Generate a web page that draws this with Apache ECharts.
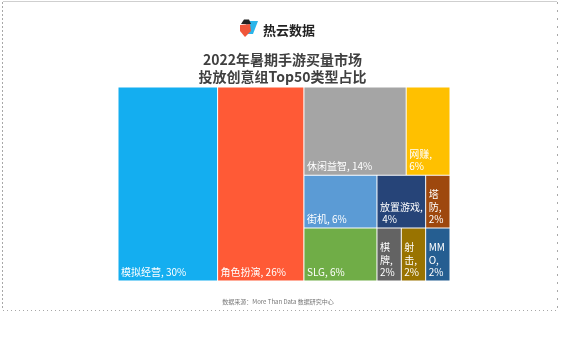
<!DOCTYPE html>
<html>
<head>
<meta charset="utf-8">
<script src="https://cdn.jsdelivr.net/npm/echarts@6/dist/echarts.min.js"></script>
<style>
  html, body { margin: 0; padding: 0; background: #fff; }
  #chart { width: 565px; height: 347px; }
</style>
</head>
<body>
<div id="chart"></div>
<script>
// Genres and their share (%) among the Top50 creative groups
const categories = ['模拟经营', '角色扮演', '休闲益智', '网赚', '街机', '放置游戏', '塔防', 'SLG', '棋牌', '射击', 'MMO'];
const shares = [30, 26, 14, 6, 6, 4, 2, 6, 2, 2, 2];
const palette = ['#14AEF0', '#FF5A36', '#A5A5A5', '#FFC000', '#5B9BD5', '#264478', '#9E480E', '#70AD47', '#636363', '#997300', '#255E91'];
// How genres (by index) are grouped into blocks of the treemap
const blocks = [0, [1, [[2, 3], [[4, 7], [[5, 6], [[8, 9], 10]]]]]];
const titleLines = ['2022年暑期手游买量市场', '投放创意组Top50类型占比'];
const brand = '热云数据';
const sourceNote = '数据来源：More Than Data 数据研究中心';

function toNode(b) {
  if (typeof b === 'number') {
    return {
      name: categories[b],
      value: shares[b],
      itemStyle: { color: palette[b], borderWidth: 0.5, borderColor: '#fff' }
    };
  }
  return { name: '', children: b.map(toNode), itemStyle: { borderWidth: 0, gapWidth: 0 } };
}
const treeData = blocks.map(toNode);

const chart = echarts.init(document.getElementById('chart'), null, { renderer: 'canvas' });
const cjk = 'Noto Sans CJK SC';

chart.setOption({
  animation: false,
  title: {
    text: titleLines.join('\n'),
    left: 'center',
    top: 46,
    textStyle: { fontSize: 14, fontWeight: 'bold', color: '#404040', lineHeight: 17, fontFamily: cjk }
  },
  series: [{
    type: 'treemap',
    left: 118, top: 87, width: 332, height: 194,
    squareRatio: 1.14,
    sort: false,
    roam: false,
    nodeClick: false,
    breadcrumb: { show: false },
    itemStyle: { borderWidth: 0, gapWidth: 0, borderColor: '#fff' },
    upperLabel: { show: false },
    label: {
      show: true,
      position: 'insideBottomLeft',
      distance: 0,
      formatter: '{b}, {c}%',
      color: '#fff',
      fontSize: 10,
      lineHeight: 12.5,
      padding: [2, 2, 2, 2.5],
      overflow: 'break',
      fontFamily: cjk
    },
    emphasis: { disabled: true },
    data: treeData
  }],
  graphic: [
    // frame
    { type: 'line', shape: { x1: 3, y1: 1.5, x2: 557, y2: 1.5 }, style: { stroke: '#CFCFCF', lineWidth: 1 } },
    { type: 'line', shape: { x1: 2.5, y1: 2, x2: 2.5, y2: 310 }, style: { stroke: '#A8A8A8', lineWidth: 1, lineDash: [2, 2] } },
    { type: 'line', shape: { x1: 557.5, y1: 2, x2: 557.5, y2: 311 }, style: { stroke: '#A8A8A8', lineWidth: 1, lineDash: [2, 6] } },
    { type: 'line', shape: { x1: 3, y1: 310.5, x2: 557, y2: 310.5 }, style: { stroke: '#A8A8A8', lineWidth: 1, lineDash: [1, 3] } },
    // brand mark
    { type: 'polygon', shape: { points: [[247, 21], [258, 21], [253, 34], [243, 34]] }, style: { fill: '#2BB5EA' } },
    { type: 'polygon', shape: { points: [[240, 25], [250, 24], [251, 31], [245, 37], [240, 31]] }, style: { fill: '#F0563A' } },
    { type: 'polygon', shape: { points: [[241, 24], [244, 19.5], [249, 19.5], [251, 24]] }, style: { fill: '#222' } },
    {
      type: 'text', left: 263, top: 24,
      style: { text: brand, fontSize: 13, fontWeight: 'bold', fill: '#222', fontFamily: cjk }
    },
    {
      type: 'text', x: 278, y: 302,
      style: { text: sourceNote, fontSize: 6, fill: '#777', fontFamily: cjk, align: 'center', verticalAlign: 'middle' }
    }
  ]
});
</script>
</body>
</html>
